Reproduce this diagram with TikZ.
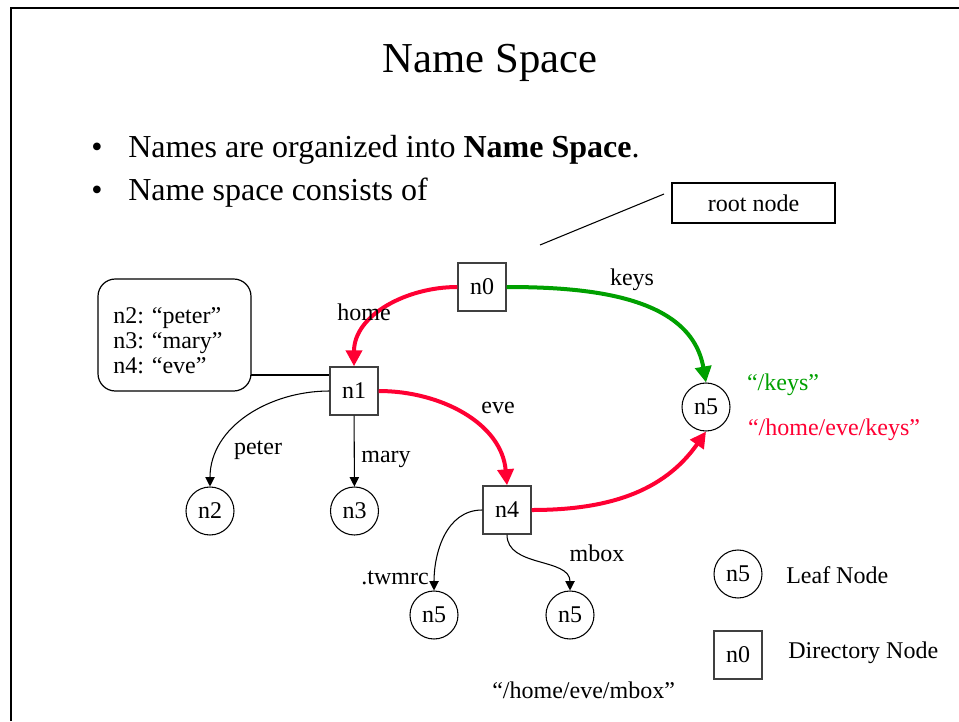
\documentclass[tikz,border=0pt]{standalone}
\usepackage{fontspec}
\setmainfont{Liberation Serif}
\usetikzlibrary{arrows.meta}
\definecolor{myred}{RGB}{255,0,51}
\definecolor{mygreen}{RGB}{0,160,0}
\begin{document}
\begin{tikzpicture}[x=0.75pt,y=-0.75pt,
  lblfont/.style={font=\fontsize{18}{21}\selectfont},
  dirnode/.style={draw=black!75, line width=1.1pt, minimum size=36pt, inner sep=0pt, lblfont},
  leafnode/.style={draw, circle, line width=0.8pt, minimum size=36pt, inner sep=0pt, lblfont},
  lbl/.style={lblfont, inner sep=0pt},
  thinarr/.style={-{Triangle[length=7pt,width=7pt]}, line width=0.8pt},
  thickarr/.style={-{Triangle[length=12pt,width=12pt]}, line width=3pt},
  bodytext/.style={font=\fontsize{24}{28.8}\selectfont, inner sep=0pt, anchor=base west},
  bullet/.style={font=\fontsize{24}{28.8}\selectfont, inner sep=0pt, anchor=base}
]
\useasboundingbox (0,0) rectangle (959,721);
% frame
\draw[line width=1.8pt] (11,721) -- (11,8) -- (959,8);

% title and bullets
\node[font=\fontsize{32}{38}\selectfont, inner sep=0pt, anchor=base] (title) at (490,72) {Name Space};
\node[bullet] (b1) at (97,157) {•};
\node[bodytext] (t1) at (128,157) {Names are organized into \textbf{Name Space}.};
\node[bullet] (b2) at (97,200) {•};
\node[bodytext] (t2) at (128,200) {Name space consists of};

% root node callout
\node[draw, line width=0.9pt, minimum width=122.25pt, minimum height=30pt, inner sep=0pt, lblfont] (root) at (753.5,203) {root node};
\coordinate (rp1) at (540,245);
\coordinate (rp2) at (664,194);
\draw[line width=0.8pt] (rp1) -- (rp2);

% name callout
\node[draw, line width=0.9pt, rounded corners=13pt, minimum width=114.75pt, minimum height=84pt, inner sep=0pt] (cb) at (174.5,335) {};
\node[anchor=west, inner sep=0pt, align=left, font=\fontsize{18}{18.75}\selectfont] (cbt) at (113,341) {n2: “peter”\\n3: “mary”\\n4: “eve”};

% nodes
\node[dirnode] (n0) at (482,287) {n0};
\node[dirnode] (n1) at (354,391) {n1};
\node[dirnode] (n4) at (507,510) {n4};
\node[leafnode] (n5) at (706,407) {n5};
\node[leafnode] (n2) at (210,511) {n2};
\node[leafnode] (n3) at (354.5,511) {n3};
\node[leafnode] (n5a) at (434,615) {n5};
\node[leafnode] (n5b) at (570,615) {n5};

\coordinate (cbp) at (251,375);
\draw[line width=0.9pt] (cbp) -- (cbp -| n1.west);

% edges
\draw[thickarr, myred] (n0.west) to[out=180,in=90] (n1.north);
\draw[thickarr, mygreen] (n0.east) to[out=0,in=100] (n5.north);
\draw[thickarr, myred] (n1.east) to[out=0,in=95] (n4.north);
\draw[thickarr, myred] (n4.east) to[out=0,in=-125] (n5.south);
\draw[thinarr] (n1.west) to[out=180,in=90] (n2.north);
\draw[thinarr] (n1) -- (n3);
\draw[thinarr] (n4.west) to[out=180,in=90] (n5a.north);
\draw[thinarr] (n4.south) to[out=-90,in=90] (n5b.north);

% edge labels
\node[lbl] (lhome) at (364,312) {home};
\node[lbl] (lkeys) at (632,280) {keys};
\node[lbl] (leve) at (498,408) {eve};
\node[lbl] (lpeter) at (258,450) {peter};
\node[lbl] (lmary) at (386,459) {mary};
\node[lbl] (ltwmrc) at (395,578) {.twmrc};
\node[lbl] (lmbox) at (597,553) {mbox};

% path labels
\node[lbl, text=mygreen] (pkeys) at (783,385) {“/keys”};
\node[lbl, text=myred] (phkeys) at (834,430) {“/home/eve/keys”};
\node[lbl, anchor=west] (pmbox) at (492,690) {“/home/eve/mbox”};

% legend
\node[leafnode] (lgleaf) at (738,574) {n5};
\node[lbl, anchor=west] (lgleaft) at (786,575) {Leaf Node};
\node[dirnode] (lgdir) at (738,655) {n0};
\node[lbl, anchor=west] (lgdirt) at (788,653) {Directory Node};
\end{tikzpicture}
\end{document}
